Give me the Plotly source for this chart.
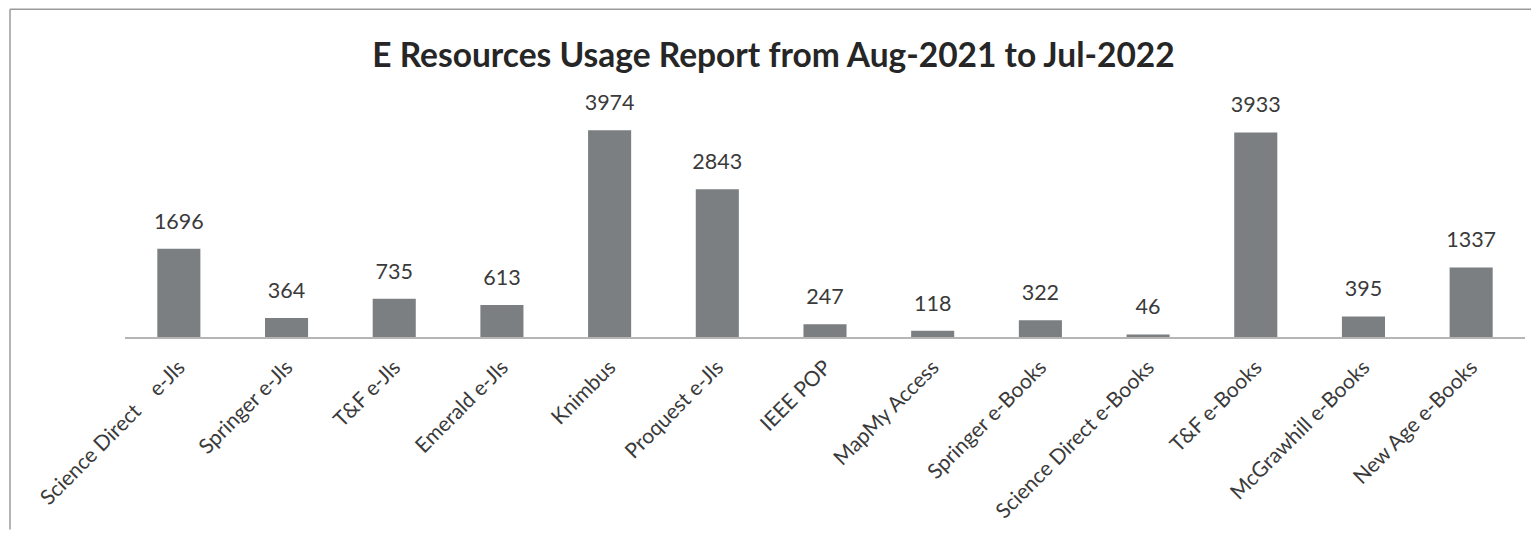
import plotly.graph_objects as go

categories = [
    "Science Direct\u00a0\u00a0\u00a0\u00a0e-Jls", "Springer e-Jls", "T&F e-Jls", "Emerald e-Jls",
    "Knimbus", "Proquest e-Jls", "IEEE POP", "MapMy Access", "Springer e-Books",
    "Science Direct e-Books", "T&F e-Books", "McGrawhill e-Books", "New Age e-Books",
]
usage = [1696, 364, 735, 613, 3974, 2843, 247, 118, 322, 46, 3933, 395, 1337]
title_text = "E Resources Usage Report from Aug-2021 to Jul-2022"

# page body has an 8px margin; figure is laid out in page coordinates minus 8
OFF = 8
W, H = 1539 - OFF, 535 - OFF
L, R, T, B = 125 - OFF, 14, 103 - OFF, 195
pw, ph = W - L - R, H - T - B

fig = go.Figure()
fig.add_trace(go.Bar(
    x=categories, y=usage,
    marker=dict(color="#7b7f81", line=dict(width=0)),
    width=0.4,
    hoverinfo="x+y",
))
fig.add_trace(go.Scatter(
    x=categories, y=usage,
    mode="markers+text",
    text=[str(v) for v in usage],
    textposition="top center",
    textfont=dict(family="Lato", size=21.5, color="#3a3a3a"),
    marker=dict(size=22, opacity=0),
    hoverinfo="skip",
    cliponaxis=False,
))

def px_x(p):
    return (p - OFF - L) / pw

def px_y(p):
    return (H - B - (p - OFF)) / ph

fig.update_layout(
    width=W, height=H,
    margin=dict(l=L, r=R, t=T, b=B),
    paper_bgcolor="white", plot_bgcolor="white",
    showlegend=False,
    title=dict(text="<b>" + title_text + "</b>", x=0.5, xanchor="center",
               xref="container", yref="container", y=1 - (55 - OFF) / H, yanchor="middle",
               font=dict(family="Lato", size=33.5, color="#262626")),
    xaxis=dict(showline=True, linecolor="#b5b5b5", linewidth=1.5, showgrid=False,
               range=[-0.5, len(categories) - 0.5], autorange=False,
               ticks="", tickangle=-45, ticklabelstandoff=8,
               tickfont=dict(family="Lato", size=21, color="#3a3a3a"),
               fixedrange=True),
    yaxis=dict(range=[0, 4500], visible=False, showgrid=False, fixedrange=True),
    shapes=[
        dict(type="line", xref="paper", yref="paper", x0=px_x(10), x1=px_x(1539), y0=px_y(8), y1=px_y(8),
             line=dict(color="#9a9a9a", width=1.5)),
        dict(type="line", xref="paper", yref="paper", x0=px_x(10), x1=px_x(10), y0=px_y(8), y1=px_y(535),
             line=dict(color="#9a9a9a", width=1.5)),
    ],
)

fig.write_html("out.html")
